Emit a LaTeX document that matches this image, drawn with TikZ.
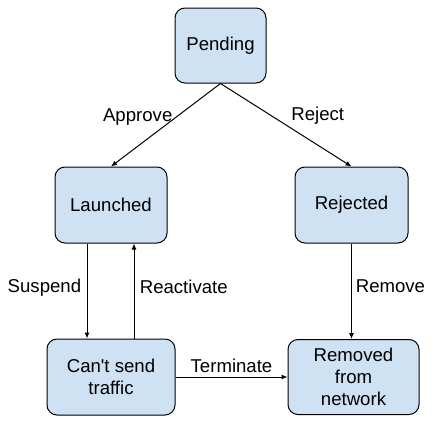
\documentclass[tikz,border=0pt]{standalone}
\usepackage{fontspec}
\setmainfont{Liberation Sans}
\usepackage{tikz}
\usetikzlibrary{positioning}
\usetikzlibrary{arrows.meta}
\tikzset{>={Latex[width=5pt,length=6pt]}}
\definecolor{lightblue}{HTML}{CFE2F3}

\begin{document}
\begin{tikzpicture}[font=\fontsize{18.6}{22}\selectfont, line width=1pt, bluenode/.style={rectangle, rounded corners=10pt, draw=black, fill=lightblue, align=center, minimum height=76pt, inner sep=2pt}, textnode/.style={draw=none, fill=none}]
    \useasboundingbox (0,0) rectangle (448pt,-424pt);

    %Nodes
    \node[bluenode, minimum width=91pt, minimum height=75pt](pending) at (220.5pt,-45.5pt){Pending};
    \node[bluenode, minimum width=112pt](launched)[below=83pt of pending, xshift=-109.5pt]{Launched};
    \node[bluenode, minimum width=113pt](rejected)[right=127pt of launched]{Rejected};
    \node[bluenode, minimum width=128pt](cantsend)[below=95pt of launched]{Can\textquotesingle t send\\traffic};
    \node[bluenode, minimum width=131pt, minimum height=75pt](removed)[right=112pt of cantsend]{Removed\\from\\network};

    %Lines
    \draw[->] (pending.south) -- (launched.north) node[textnode, pos=0.4, left=0.5pt](approve){Approve};
    \draw[->] (pending.south) -- (rejected.north) node[textnode, pos=0.39, right=16pt](reject){Reject};
    \draw[->] ([xshift=-24pt]launched.south) -- ([xshift=-24pt]cantsend.north) node[textnode, midway, left=2pt, yshift=3pt](suspend){Suspend};
    \draw[->] ([xshift=23pt]cantsend.north) -- ([xshift=23pt]launched.south) node[textnode, midway, right=2pt, yshift=4pt](reactivate){Reactivate};
    \draw[->] (rejected.south) -- (rejected.south |- removed.north) node[textnode, midway, right=0.5pt, yshift=5pt](remove){Remove};
    \draw[->] (cantsend.east) -- (cantsend.east -| removed.west) node[textnode, midway, above=0.5pt](terminate){Terminate};

\end{tikzpicture}
\end{document}
